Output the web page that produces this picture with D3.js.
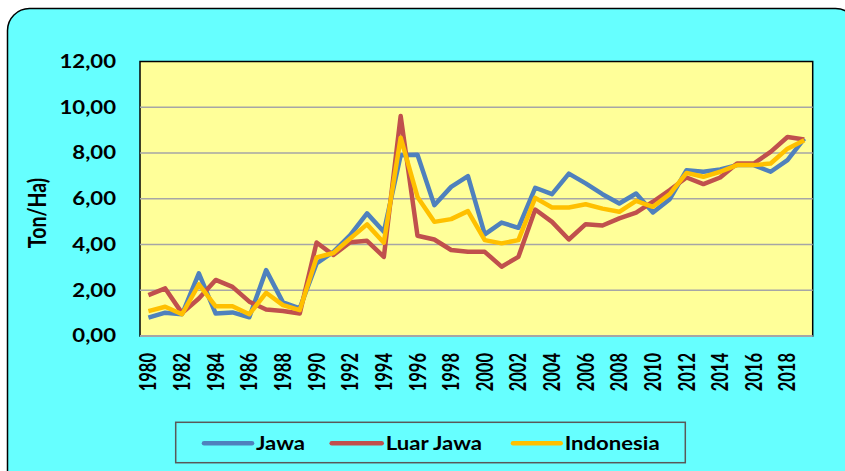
<!DOCTYPE html>
<html><head><meta charset="utf-8">
<script src="https://cdn.jsdelivr.net/npm/d3@7"></script>
<style>html,body{margin:0;padding:0;background:#fff;}svg{display:block;}</style>
</head><body>
<svg id="chart" width="845" height="471"></svg>
<script>
const years = d3.range(1980, 2020);
const tickYears = d3.range(1980, 2019, 2);
const yTicks = [0, 2, 4, 6, 8, 10, 12];
const jawa = [0.80,1.02,0.95,2.74,0.98,1.03,0.82,2.88,1.47,1.21,3.17,3.68,4.41,5.36,4.56,7.90,7.92,5.72,6.52,6.99,4.44,4.96,4.73,6.48,6.20,7.10,6.67,6.20,5.79,6.23,5.40,5.98,7.25,7.18,7.28,7.47,7.47,7.18,7.69,8.63];
const luarJawa = [1.79,2.08,1.00,1.64,2.45,2.15,1.50,1.16,1.09,0.98,4.09,3.54,4.10,4.16,3.46,9.62,4.38,4.22,3.76,3.68,3.68,3.03,3.46,5.53,4.99,4.22,4.89,4.83,5.14,5.39,5.87,6.38,6.93,6.64,6.93,7.54,7.54,8.05,8.70,8.59];
const indonesia = [1.09,1.28,0.95,2.26,1.30,1.30,0.95,1.89,1.35,1.13,3.43,3.63,4.26,4.88,4.08,8.67,6.08,4.99,5.11,5.46,4.19,4.05,4.19,6.04,5.62,5.62,5.76,5.57,5.43,5.91,5.65,6.20,7.13,6.96,7.18,7.47,7.47,7.54,8.19,8.56];
const seriesNames = ["Jawa", "Luar Jawa", "Indonesia"];
const seriesColors = ["#4F81BD", "#C0504D", "#FFC000"];
const seriesData = [jawa, luarJawa, indonesia];
const yLabel = "Ton/Ha)";

const svg = d3.select("#chart");
const FONT = "Lato, 'Open Sans', sans-serif";
const SX = 1.23;

// outer rounded background
svg.append("rect").attr("x", 7.5).attr("y", 8.5).attr("width", 850).attr("height", 500)
  .attr("rx", 22).attr("ry", 22).attr("fill", "#66FFFF").attr("stroke", "#000").attr("stroke-width", 1.5);

const L = 140, R = 812.7, T = 61.5, B = 336;
const x = d3.scaleBand().domain(years).range([L, R]);
const cx = d => x(d) + x.bandwidth() / 2;
const y = d3.scaleLinear().domain([0, 12]).range([B, T]);

// plot area
svg.append("rect").attr("x", L).attr("y", T).attr("width", R - L).attr("height", B - T)
  .attr("fill", "#FFFF99").attr("stroke", "#000").attr("stroke-width", 1.5);

// gridlines
svg.append("g").selectAll("line").data(yTicks.filter(v => v > 0 && v < 12)).join("line")
  .attr("x1", L).attr("x2", R).attr("y1", d => y(d)).attr("y2", d => y(d))
  .attr("stroke", "#A6A6A6").attr("stroke-width", 1.5);
svg.append("line").attr("x1", L).attr("x2", R).attr("y1", B).attr("y2", B)
  .attr("stroke", "#A6A6A6").attr("stroke-width", 2);

// y tick labels
svg.append("g").selectAll("text").data(yTicks).join("text")
  .attr("transform", d => `translate(116,${y(d)}) scale(${SX},1)`)
  .attr("dy", "0.36em").attr("text-anchor", "end")
  .attr("font-family", FONT).attr("font-weight", 700).attr("font-size", 18).attr("fill", "#000")
  .text(d => d3.format(".2f")(d).replace(".", ","));

// x tick labels
svg.append("g").selectAll("text").data(tickYears).join("text")
  .attr("transform", d => `translate(${cx(d)},353) scale(1.35,1) rotate(-90)`)
  .attr("dy", "0.36em").attr("text-anchor", "end")
  .attr("font-family", FONT).attr("font-weight", 700).attr("font-size", 16.5).attr("fill", "#000")
  .text(d => d);

// y axis title
svg.append("text").attr("transform", `translate(37.5,213) scale(${SX},1) rotate(-90)`)
  .attr("dy", "0.36em").attr("text-anchor", "middle")
  .attr("font-family", FONT).attr("font-weight", 700).attr("font-size", 19.5).attr("fill", "#000")
  .text(yLabel);

// lines
const line = d3.line().x((d, i) => cx(years[i])).y(d => y(d));
seriesData.forEach((s, k) => {
  svg.append("path").datum(s).attr("d", line).attr("fill", "none")
    .attr("stroke", seriesColors[k]).attr("stroke-width", 4.5).attr("stroke-linejoin", "round");
});

// legend
svg.append("rect").attr("x", 175.7).attr("y", 422.3).attr("width", 509.6).attr("height", 40.4)
  .attr("fill", "#66FFFF").attr("stroke", "#595959").attr("stroke-width", 1.5);
const legendX = [204, 331.7, 513];
const legendW = [48, 50, 47.7];
const lg = svg.append("g").selectAll("g").data(seriesNames).join("g");
lg.append("line").attr("x1", (d, i) => legendX[i]).attr("x2", (d, i) => legendX[i] + legendW[i])
  .attr("y1", 443.3).attr("y2", 443.3).attr("stroke", (d, i) => seriesColors[i])
  .attr("stroke-width", 4.5).attr("stroke-linecap", "round");
lg.append("text").attr("transform", (d, i) => `translate(${legendX[i] + legendW[i] + 4},450) scale(${SX},1)`)
  .attr("font-family", FONT).attr("font-weight", 700).attr("font-size", 18).attr("fill", "#000")
  .text(d => d);
</script>
</body></html>
